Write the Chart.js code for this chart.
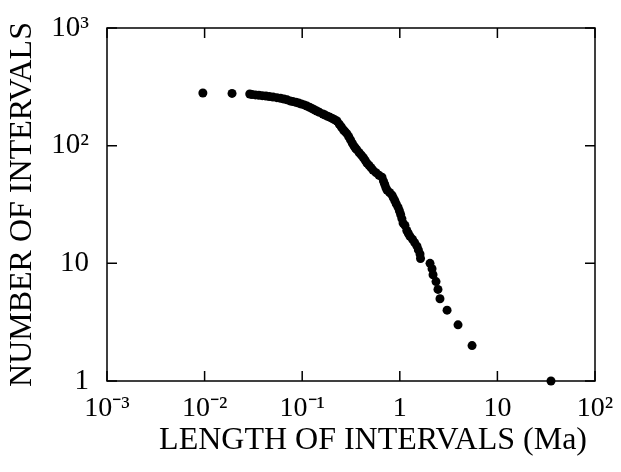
<!DOCTYPE html>
<html>
<head>
<meta charset="utf-8">
<script src="https://cdn.jsdelivr.net/npm/chart.js@4.4.1/dist/chart.umd.min.js"></script>
<style>
  html, body { margin: 0; padding: 0; background: #fff; }
  canvas { display: block; }
</style>
</head>
<body>
<canvas id="chart" width="621" height="472"></canvas>
<script>
// --- DATA ---
const intervalLength = [
  0.0096, 0.0191, 0.0290, 0.0306, 0.0332, 0.0360, 0.0390, 0.0425, 0.0460, 0.0502,
  0.0550, 0.0600, 0.0650, 0.0700, 0.0750, 0.0800, 0.0860, 0.0920, 0.0980, 0.105,
  0.112, 0.119, 0.126, 0.133, 0.141, 0.150, 0.163, 0.172, 0.182, 0.193,
  0.204, 0.215, 0.227, 0.240, 0.252, 0.265, 0.276, 0.288, 0.300, 0.313,
  0.326, 0.340, 0.352, 0.364, 0.384, 0.404, 0.424, 0.442, 0.461, 0.484,
  0.507, 0.531, 0.570, 0.612, 0.657, 0.680, 0.700, 0.720, 0.739, 0.785,
  0.832, 0.860, 0.890, 0.920, 0.959, 0.990, 1.02, 1.05, 1.08, 1.13,
  1.18, 1.22, 1.27, 1.35, 1.42, 1.50, 1.55, 1.61, 1.63, 2.04,
  2.14, 2.19, 2.35, 2.46, 2.58, 3.05, 3.95, 5.5, 35.4
];
const intervalCount = [
  280, 278, 275, 272, 270, 268, 266, 264, 262, 259,
  256, 253, 249, 245, 240, 237, 234, 230, 226, 222,
  217, 212, 207, 202, 197, 192, 186, 182, 178, 174,
  170, 166, 162, 152, 144, 136, 131, 126, 119, 112,
  105, 99, 95, 92, 87, 83, 79, 75, 71, 68,
  65, 62, 59, 56, 54, 50, 47, 44, 42, 40,
  38, 36, 34, 32, 30, 28, 26, 24, 22, 21,
  19, 18, 17, 16, 15, 14, 13, 12, 11, 10,
  9, 8, 7, 6, 5, 4, 3, 2, 1
];

const xTickValues = [0.001, 0.01, 0.1, 1, 10, 100];
const xTickLabels = ["10\u207B\u00B3", "10\u207B\u00B2", "10\u207B\u00B9", "1", "10", "10\u00B2"];
const yTickValues = [1, 10, 100, 1000];
const yTickLabels = ["1", "10", "10\u00B2", "10\u00B3"];

const xTitle = "LENGTH OF INTERVALS (Ma) ";
const yTitle = "NUMBER OF INTERVALS";

const FONT = "'Liberation Serif', 'Times New Roman', serif";

// frame + inward tick marks on all four sides
const framePlugin = {
  id: "frame",
  afterDraw(chart) {
    const { ctx, chartArea: a, scales } = chart;
    const len = 10;
    ctx.save();
    ctx.strokeStyle = "#000";
    ctx.lineWidth = 1.5;
    ctx.strokeRect(a.left, a.top, a.right - a.left, a.bottom - a.top);
    ctx.beginPath();
    xTickValues.forEach(v => {
      const px = scales.x.getPixelForValue(v);
      ctx.moveTo(px, a.bottom); ctx.lineTo(px, a.bottom - len);
      ctx.moveTo(px, a.top); ctx.lineTo(px, a.top + len);
    });
    yTickValues.forEach(v => {
      const py = scales.y.getPixelForValue(v);
      ctx.moveTo(a.left, py); ctx.lineTo(a.left + len, py);
      ctx.moveTo(a.right, py); ctx.lineTo(a.right - len, py);
    });
    ctx.stroke();
    ctx.restore();
  }
};

new Chart(document.getElementById("chart"), {
  type: "scatter",
  data: {
    datasets: [{
      data: intervalLength.map((x, i) => ({ x: x, y: intervalCount[i] })),
      backgroundColor: "#000",
      borderColor: "#000",
      pointRadius: 4.5,
      pointBorderWidth: 0,
      clip: false
    }]
  },
  options: {
    responsive: false,
    devicePixelRatio: 1,
    animation: false,
    layout: { padding: { top: 28, right: 26, left: 0, bottom: 0 } },
    plugins: { legend: { display: false }, tooltip: { enabled: false } },
    scales: {
      x: {
        type: "logarithmic",
        min: 0.001,
        max: 100,
        afterBuildTicks: s => { s.ticks = xTickValues.map(v => ({ value: v })); },
        afterFit: s => { s.height = 91; s.paddingLeft = 0; s.paddingRight = 0; },
        grid: { display: false, drawTicks: false },
        border: { display: false },
        ticks: {
          autoSkip: false,
          maxRotation: 0,
          padding: 11,
          color: "#000",
          font: { family: FONT, size: 28 },
          callback: (v, i) => xTickLabels[i]
        },
        title: {
          display: true,
          text: xTitle,
          align: "end",
          color: "#000",
          font: { family: FONT, size: 32 },
          padding: { top: 0, bottom: 12 }
        }
      },
      y: {
        type: "logarithmic",
        min: 1,
        max: 1000,
        afterBuildTicks: s => { s.ticks = yTickValues.map(v => ({ value: v })); },
        afterFit: s => { s.width = 107; s.paddingTop = 0; s.paddingBottom = 0; },
        grid: { display: false, drawTicks: false },
        border: { display: false },
        ticks: {
          autoSkip: false,
          padding: 18,
          color: "#000",
          font: { family: FONT, size: 29 },
          callback: (v, i) => yTickLabels[i]
        },
        title: {
          display: true,
          text: yTitle,
          color: "#000",
          font: { family: FONT, size: 32 },
          padding: { top: 3, bottom: 0 }
        }
      }
    }
  },
  plugins: [framePlugin]
});
</script>
</body>
</html>
